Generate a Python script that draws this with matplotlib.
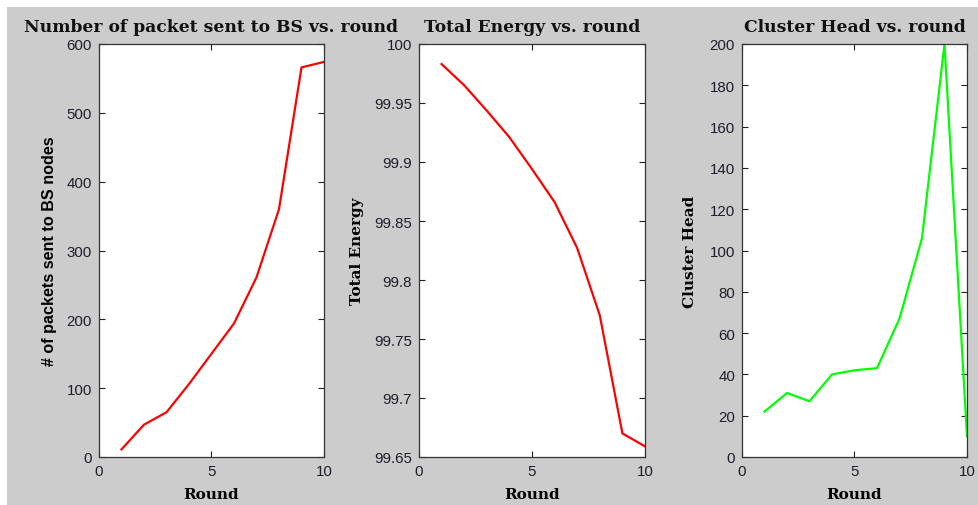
import matplotlib
matplotlib.use('Agg')
import matplotlib.pyplot as plt
from matplotlib.patches import Rectangle

plt.rcParams.update({'font.family': 'Liberation Sans', 'font.size': 10})

W, H = 979, 506

rounds = [1, 2, 3, 4, 5, 6, 7, 8, 9, 10]
packets = [11, 47, 65, 106, 150, 194, 261, 360, 566, 574]
energy = [99.983, 99.965, 99.9435, 99.921, 99.894, 99.866, 99.827, 99.770, 99.670, 99.659]
cluster_heads = [22, 31, 27, 40, 42, 43, 67, 106, 200, 10]

titles = ['Number of packet sent to BS vs. round', 'Total Energy vs. round', 'Cluster Head vs. round']
ylabels = ['# of packets sent to BS nodes', 'Total Energy', 'Cluster Head']
series = [packets, energy, cluster_heads]
colors = ['#ff0000', '#ff0000', '#00ff00']
ylims = [(0, 600), (99.65, 100), (0, 200)]
yticks = [[0, 100, 200, 300, 400, 500, 600],
          [99.65, 99.7, 99.75, 99.8, 99.85, 99.9, 99.95, 100],
          [0, 20, 40, 60, 80, 100, 120, 140, 160, 180, 200]]
yticklabels = [[str(v) for v in yticks[0]],
               ['99.65', '99.7', '99.75', '99.8', '99.85', '99.9', '99.95', '100'],
               [str(v) for v in yticks[2]]]

# pixel boxes of the three axes: left, right
lefts = [99, 419, 742]
rights = [324, 645, 967]
top, bottom = 45, 458
# right edge of rotated y label, in pixels
ylabel_right = [57, 364, 697]

fig = plt.figure(figsize=(W / 100, H / 100), dpi=100, facecolor='white')
fig.patches.append(Rectangle((7 / W, 0), 1, 1 - 8 / H, transform=fig.transFigure,
                             facecolor='#cccccc', edgecolor='none', zorder=-10))

serif = 'DejaVu Serif'
for i in range(3):
    l, r = lefts[i], rights[i]
    ax = fig.add_axes([l / W, (H - bottom) / H, (r - l) / W, (bottom - top) / H])
    ax.plot(rounds, series[i], color=colors[i], linewidth=1.6)
    ax.set_xlim(0, 10)
    ax.set_ylim(*ylims[i])
    ax.set_xticks([0, 5, 10])
    ax.set_yticks(yticks[i])
    ax.set_yticklabels(yticklabels[i])
    ax.tick_params(direction='in', length=4, width=0.8, top=True, right=True,
                   pad=5, labelsize=10.8, labelcolor='#1e1e2a', color='#202020')
    for s in ax.spines.values():
        s.set_color('#333333')
        s.set_linewidth(0.9)
    ax.set_title(titles[i], fontfamily=serif, fontweight='bold', fontsize=12.3,
                 color='#111111', y=(bottom - 32) / (bottom - top), pad=0)
    ax.set_xlabel('Round', fontfamily=serif, fontweight='bold', fontsize=11)
    ax.xaxis.set_label_coords(0.5, -(488 - bottom) / (bottom - top))
    if i == 0:
        ax.set_ylabel(ylabels[i], fontweight='bold', fontsize=11.6)
    else:
        ax.set_ylabel(ylabels[i], fontfamily=serif, fontweight='bold', fontsize=11)
    ax.yaxis.set_label_coords((ylabel_right[i] - l) / (r - l), 0.5)

fig.savefig('out.png', dpi=100, facecolor=fig.get_facecolor())
